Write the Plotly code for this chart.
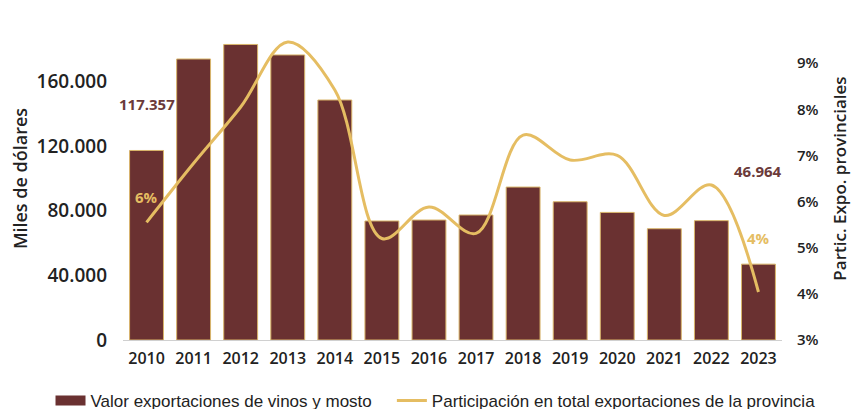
import plotly.graph_objects as go

years = list(range(2010, 2024))
valor = [117357, 174000, 183000, 176500, 148600, 73700, 74300, 77400,
         94700, 85600, 79000, 68900, 73900, 46964]
particip = [5.55, 6.83, 8.05, 9.46, 8.42, 5.2, 5.88, 5.31,
            7.44, 6.9, 7.0, 5.7, 6.36, 4.04]
left_ticks = [0, 40000, 80000, 120000, 160000, 200000]
right_ticks = [3, 4, 5, 6, 7, 8, 9, 10]
right_labels = [f"{v}%" for v in right_ticks]

MAROON = "#6a3131"
GOLD = "#e5bd62"
FONT = "Open Sans"
BAR_NAME = "Valor exportaciones de vinos y mosto"
LINE_NAME = "Participación en total exportaciones de la provincia"

fig = go.Figure()
fig.add_trace(go.Bar(
    x=years, y=valor, name=BAR_NAME, showlegend=False,
    marker=dict(color=MAROON, line=dict(color="#d9b56a", width=1)),
))
# solo para la leyenda: rectángulo ancho como en el original
fig.add_trace(go.Scatter(
    x=[None], y=[None], name=BAR_NAME, mode="lines",
    line=dict(color=MAROON, width=11), legend="legend",
))
fig.add_trace(go.Scatter(
    x=years, y=particip, name=LINE_NAME, legend="legend2",
    mode="lines", line=dict(color=GOLD, width=3, shape="spline", smoothing=1.0),
    yaxis="y2",
))

# etiquetas de primer y último año
lab_font = dict(size=15, family=FONT, weight="bold")
fig.add_annotation(x=years[0], y=valor[0], text="117.357", showarrow=False,
                   yshift=46, font=dict(color="#6b3a3a", **lab_font))
fig.add_annotation(x=years[-1], y=valor[-1], text="46.964", showarrow=False,
                   yshift=93, font=dict(color="#6b3a3a", **lab_font))
fig.add_annotation(x=years[0], y=particip[0], yref="y2", text="6%", showarrow=False,
                   yshift=25, font=dict(color=GOLD, **lab_font))
fig.add_annotation(x=years[-1], y=particip[-1], yref="y2", text="4%", showarrow=False,
                   yshift=54, font=dict(color=GOLD, **lab_font))

leg_font = dict(size=17, family="Liberation Sans", color="#222222", weight="normal")

# la página pone 8px de margen al body: se compensa en los márgenes
fig.update_layout(
    width=860, height=409,
    margin=dict(l=115, r=86, t=9, b=77, autoexpand=False),
    paper_bgcolor="white", plot_bgcolor="white",
    separators=",.",
    bargap=0.28,
    font=dict(family=FONT, size=16, color="#222222", weight=600),
    xaxis=dict(range=[years[0] - 0.5, years[-1] + 0.5], tickvals=years, tickformat="d",
               showgrid=False, showline=True, linecolor="#d0d0d0", zeroline=False,
               linewidth=1, ticks="", automargin=False, ticklabelstandoff=4,
               tickfont=dict(size=16, color="#222222", weight=600)),
    yaxis=dict(range=[0, 200000], tickvals=left_ticks, tickformat=",.0f",
               showgrid=False, zeroline=False, ticks="", automargin=False,
               ticklabelstandoff=15, tickfont=dict(size=19, weight=600),
               title=dict(text="Miles de dólares", font=dict(size=18, weight=600), standoff=7)),
    yaxis2=dict(range=[3, 10], tickvals=right_ticks, ticktext=right_labels,
                overlaying="y", side="right", showgrid=False, zeroline=False,
                ticks="", automargin=False, ticklabelstandoff=14,
                tickfont=dict(size=15, weight=600),
                title=dict(text="Partic. Expo. provinciales", font=dict(size=17, weight=600),
                           standoff=16)),
    legend=dict(orientation="h", x=-0.110, xanchor="left", y=-0.189, yanchor="middle",
                font=leg_font, itemwidth=30, bgcolor="rgba(0,0,0,0)"),
    legend2=dict(orientation="h", x=0.408, xanchor="left", y=-0.189, yanchor="middle",
                 font=leg_font, itemwidth=30, bgcolor="rgba(0,0,0,0)"),
    showlegend=True,
)

fig.write_html("out.html")
